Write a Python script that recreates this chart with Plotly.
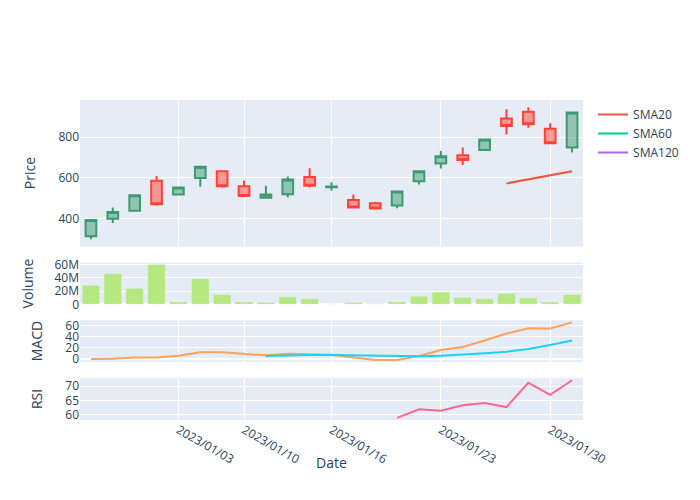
import plotly.graph_objects as go
from plotly.subplots import make_subplots

dates = ["2022/12/27", "2022/12/28", "2022/12/29", "2022/12/30",
         "2023/01/03", "2023/01/04", "2023/01/05", "2023/01/10",
         "2023/01/11", "2023/01/12", "2023/01/13", "2023/01/16",
         "2023/01/17", "2023/01/18", "2023/01/19", "2023/01/20",
         "2023/01/23", "2023/01/24", "2023/01/25", "2023/01/26",
         "2023/01/27", "2023/01/30", "2023/01/31"]

open_ = [312, 398, 437, 585, 518, 598, 632, 558, 502, 519, 603, 553,
         491, 475, 463, 582, 670, 710, 736, 891, 924, 841, 749]
high = [395, 454, 516, 608, 553, 655, 633, 586, 560, 606, 647, 578,
        518, 482, 533, 633, 731, 749, 790, 936, 946, 868, 922]
low = [298, 377, 436, 462, 517, 555, 551, 508, 496, 503, 552, 536,
       452, 445, 450, 567, 645, 663, 735, 813, 845, 764, 724]
close = [392, 432, 514, 470, 552, 654, 558, 510, 518, 591, 560, 557,
         454, 449, 532, 632, 706, 687, 788, 854, 863, 769, 921]

volume = [28.7e6, 46.2e6, 24.1e6, 60.0e6, 3.6e6, 38.5e6, 14.4e6, 3.6e6,
          2.6e6, 11.3e6, 8.2e6, 0.5e6, 2.6e6, 1.0e6, 3.6e6, 12.3e6,
          18.5e6, 10.3e6, 8.2e6, 16.4e6, 9.7e6, 3.6e6, 14.9e6]

sma20 = [None] * 19 + [572, 593, 612, 632]
sma60 = [None] * 23
sma120 = [None] * 23

macd = [0, 0.5, 2.8, 3.0, 5.8, 12.2, 12.1, 9.4, 6.7, 9.4, 9.1, 7.9,
        2.8, -1.8, -1.5, 5.5, 16.4, 21.8, 33.4, 46.1, 55.5, 55.4, 66.2]
signal = [None] * 8 + [5.5, 6.7, 7.3, 7.3, 6.7, 6.1, 5.5, 4.9, 6.1, 7.9,
                       10.3, 13.3, 18.2, 25.5, 33.4]
rsi = [None] * 14 + [58.9, 61.9, 61.4, 63.3, 64.1, 62.7, 71.2, 67.0, 72.1]

tick_dates = ["2023/01/03", "2023/01/10", "2023/01/16", "2023/01/23", "2023/01/30"]

y_titles = ["Price", "Volume", "MACD", "RSI"]
x_title = "Date"

fig = make_subplots(rows=4, cols=1, shared_xaxes=True, vertical_spacing=0.05,
                    row_heights=[0.7, 0.2, 0.2, 0.2])

fig.add_trace(go.Candlestick(x=dates, open=open_, high=high, low=low, close=close,
                             showlegend=False, name="Price"), row=1, col=1)
fig.add_trace(go.Scatter(x=dates, y=sma20, mode="lines", name="SMA20",
                         line=dict(color="#EF553B")), row=1, col=1)
fig.add_trace(go.Scatter(x=dates, y=sma60, mode="lines", name="SMA60",
                         line=dict(color="#00CC96")), row=1, col=1)
fig.add_trace(go.Scatter(x=dates, y=sma120, mode="lines", name="SMA120",
                         line=dict(color="#AB63FA")), row=1, col=1)
fig.add_trace(go.Bar(x=dates, y=volume, name="Volume", showlegend=False,
                     marker_color="#B6E880"), row=2, col=1)
fig.add_trace(go.Scatter(x=dates, y=macd, mode="lines", name="MACD", showlegend=False,
                         line=dict(color="#FFA15A")), row=3, col=1)
fig.add_trace(go.Scatter(x=dates, y=signal, mode="lines", name="Signal", showlegend=False,
                         line=dict(color="#19D3F3")), row=3, col=1)
fig.add_trace(go.Scatter(x=dates, y=rsi, mode="lines", name="RSI", showlegend=False,
                         line=dict(color="#FF6692")), row=4, col=1)

fig.update_xaxes(type="category", tickvals=tick_dates, ticktext=tick_dates,
                 automargin=False)
fig.update_xaxes(rangeslider_visible=False, row=1, col=1)
fig.update_xaxes(tickangle=30, row=4, col=1)
fig.update_yaxes(automargin=False)

title_font = dict(size=14, color="#2a3f5f")
shifts = [-51, -53, -44, -44]
for i, (t, s) in enumerate(zip(y_titles, shifts)):
    yref = "y domain" if i == 0 else "y%d domain" % (i + 1)
    fig.add_annotation(text=t, xref="paper", x=0, xanchor="center", xshift=s,
                       yref=yref, y=0.5, yanchor="middle", textangle=-90,
                       showarrow=False, font=title_font)
fig.add_annotation(text=x_title, xref="x4 domain", x=0.5, xanchor="center",
                   yref="y4 domain", y=0, yanchor="middle", yshift=-42,
                   showarrow=False, font=title_font)

fig.update_layout(width=700, height=500, margin=dict(l=80, r=117, t=100, b=80))

fig.write_html("out.html")
